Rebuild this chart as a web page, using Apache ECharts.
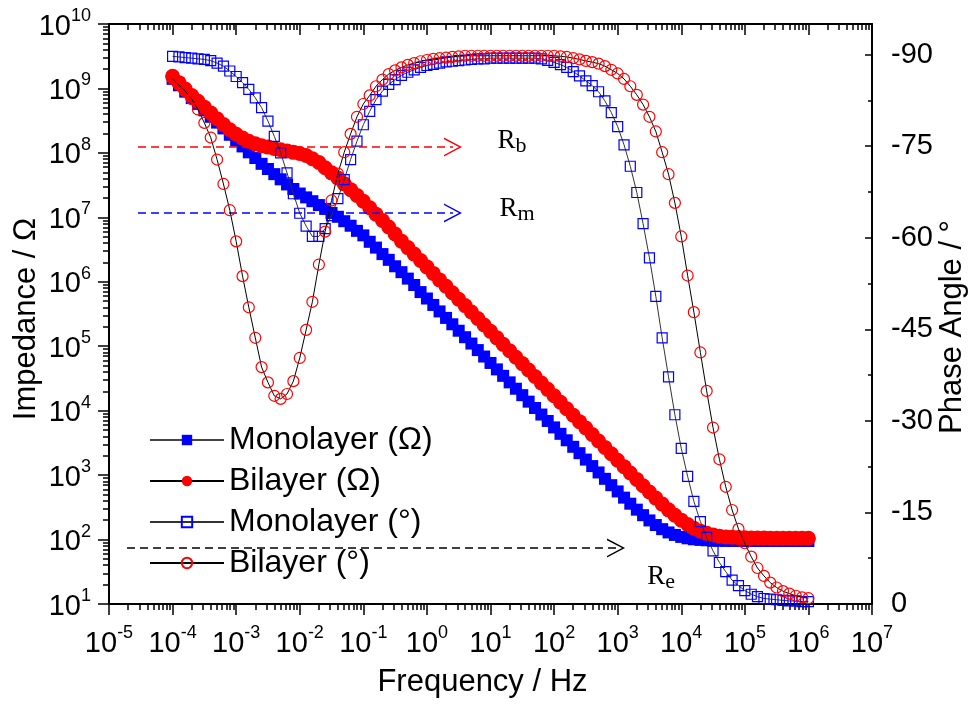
<!DOCTYPE html>
<html><head><meta charset="utf-8">
<script src="https://cdn.jsdelivr.net/npm/echarts@6/dist/echarts.min.js"></script>
<style>html,body{margin:0;padding:0;background:#fff}#c{width:971px;height:704px}</style>
</head><body><div id="c"></div>
<script>
const frequency = [1e-4,1.26e-4,1.58e-4,2.0e-4,2.51e-4,3.16e-4,3.98e-4,5.01e-4,6.31e-4,7.94e-4,
1e-3,1.26e-3,1.58e-3,2.0e-3,2.51e-3,3.16e-3,3.98e-3,5.01e-3,6.31e-3,7.94e-3,
0.01,0.0126,0.0158,0.02,0.0251,0.0316,0.0398,0.0501,0.0631,0.0794,
0.1,0.126,0.158,0.2,0.251,0.316,0.398,0.501,0.631,0.794,
1,1.26,1.58,2.0,2.51,3.16,3.98,5.01,6.31,7.94,
10,12.6,15.8,20,25.1,31.6,39.8,50.1,63.1,79.4,
100,126,158,200,251,316,398,501,631,794,
1000,1260,1580,2000,2510,3160,3980,5010,6310,7940,
1e4,1.26e4,1.58e4,2e4,2.51e4,3.16e4,3.98e4,5.01e4,6.31e4,7.94e4,
1e5,1.26e5,1.58e5,2e5,2.51e5,3.16e5,3.98e5,5.01e5,6.31e5,7.94e5,
1e6];

const monolayerImpedance = [1.41e9,1.12e9,8.91e8,7.08e8,5.75e8,4.57e8,3.63e8,2.95e8,2.40e8,1.91e8,
1.55e8,1.26e8,1.02e8,8.32e7,6.76e7,5.62e7,4.68e7,3.89e7,3.24e7,2.75e7,
2.34e7,2.04e7,1.78e7,1.55e7,1.35e7,1.17e7,1.02e7,8.71e6,7.41e6,6.17e6,
5.25e6,4.17e6,3.39e6,2.69e6,2.19e6,1.74e6,1.41e6,1.12e6,8.91e5,6.92e5,
5.50e5,4.37e5,3.47e5,2.75e5,2.19e5,1.74e5,1.38e5,1.10e5,8.71e4,6.92e4,
5.50e4,4.37e4,3.47e4,2.75e4,2.19e4,1.74e4,1.38e4,1.10e4,8710,6920,
5500,4370,3470,2750,2190,1740,1380,1100,876,698,
558,447,360,291,239,198,168,145,129,118,
110,104.5,101,98.9,97.5,96.6,96.0,95.6,95.4,95.3,
95.2,95.1,95.1,95.1,95.0,95.0,95.0,95.0,95.0,95.0,
95.0];

const bilayerImpedance = [1.55e9,1.23e9,9.77e8,7.76e8,6.31e8,5.13e8,4.17e8,3.39e8,2.75e8,2.29e8,
1.95e8,1.70e8,1.51e8,1.38e8,1.29e8,1.23e8,1.17e8,1.12e8,1.07e8,1.02e8,
9.77e7,9.12e7,8.13e7,7.08e7,5.89e7,4.90e7,4.07e7,3.31e7,2.69e7,2.19e7,
1.78e7,1.41e7,1.12e7,8.91e6,7.08e6,5.50e6,4.27e6,3.39e6,2.69e6,2.14e6,
1.70e6,1.35e6,1.07e6,8.51e5,6.76e5,5.37e5,4.27e5,3.39e5,2.69e5,2.14e5,
1.70e5,1.35e5,1.07e5,8.51e4,6.76e4,5.37e4,4.27e4,3.39e4,2.69e4,2.14e4,
1.70e4,1.35e4,1.07e4,8510,6760,5370,4270,3390,2690,2140,
1700,1353,1077,858,684,547,440,355,289,238,
200,171,150,135,125,118,113,110,108.4,107.2,
106.4,105.9,105.5,105.3,105.2,105.1,105.1,105.0,105.0,105.0,
105.0];

const monolayerPhase = [-89.7,-89.6,-89.5,-89.4,-89.3,-89.2,-89.0,-88.6,-88.1,-87.3,
-86.4,-85.4,-84.3,-82.9,-81.3,-79.1,-76.6,-73.9,-70.6,-67.2,
-64.0,-61.9,-60.2,-60.2,-61.5,-63.6,-66.4,-69.5,-72.8,-75.8,
-78.5,-80.7,-82.6,-84.0,-85.1,-85.9,-86.6,-87.1,-87.5,-87.9,
-88.2,-88.4,-88.6,-88.8,-88.9,-89.0,-89.1,-89.2,-89.3,-89.3,
-89.4,-89.4,-89.4,-89.4,-89.4,-89.4,-89.4,-89.4,-89.3,-89.05,
-88.7,-88.35,-87.9,-87.2,-86.5,-85.7,-84.9,-83.9,-82.4,-80.5,
-78.2,-75.2,-71.7,-67.4,-62.3,-56.7,-50.4,-43.6,-37.2,-31.0,
-25.5,-20.9,-16.8,-13.5,-10.9,-8.7,-6.8,-5.3,-3.9,-3.0,
-2.2,-1.6,-1.2,-0.9,-0.8,-0.7,-0.6,-0.5,-0.5,-0.4,
-0.4];

const bilayerPhase = [-86.0,-85.0,-84.0,-82.7,-81.0,-78.8,-76.4,-72.8,-68.8,-64.5,
-59.4,-53.7,-48.6,-43.6,-38.8,-36.3,-34.1,-33.6,-34.4,-36.5,
-40.3,-44.9,-49.5,-55.6,-61.0,-66.1,-70.5,-74.0,-77.0,-79.8,
-81.9,-83.3,-84.8,-85.9,-86.8,-87.4,-87.9,-88.3,-88.6,-88.9,
-89.1,-89.3,-89.4,-89.5,-89.6,-89.7,-89.8,-89.8,-89.8,-89.8,
-89.8,-89.8,-89.8,-89.8,-89.8,-89.8,-89.8,-89.8,-89.8,-89.8,
-89.8,-89.7,-89.6,-89.4,-89.2,-88.95,-88.75,-88.5,-88.1,-87.5,
-86.9,-86.0,-84.8,-83.4,-81.8,-79.8,-77.4,-74.0,-70.4,-65.7,
-60.2,-53.8,-47.8,-41.2,-34.9,-28.9,-23.7,-19.2,-15.4,-12.3,
-9.95,-7.75,-5.9,-4.6,-3.5,-2.7,-2.1,-1.7,-1.35,-1.1,
-0.95];

const seriesNames = ['Monolayer (\u03A9)', 'Bilayer (\u03A9)', 'Monolayer (\u00B0)', 'Bilayer (\u00B0)'];
const freqTicks = [1e-5,1e-4,1e-3,1e-2,1e-1,1,10,100,1e3,1e4,1e5,1e6,1e7];
const impedanceTicks = [10,100,1e3,1e4,1e5,1e6,1e7,1e8,1e9,1e10];
const phaseTicks = [0,-15,-30,-45,-60,-75,-90];
const phaseMinorTicks = [-7.5,-22.5,-37.5,-52.5,-67.5,-82.5];

// annotation arrows (level markers) and their labels
const arrowLines = [
  {from:[2.86e-5, 1.23e8], to:[2.57, 1.23e8], color:'#ff0000'},
  {from:[2.86e-5, 1.17e7], to:[2.57, 1.17e7], color:'#0000ff'},
  {from:[1.92e-5, 73.8], to:[942, 73.8], color:'#000000'}
];
const annotations = [
  {at:[21.8, 1.48e8], main:'R', sub:'b'},
  {at:[26.1, 1.30e7], main:'R', sub:'m'},
  {at:[4810, 25.3], main:'R', sub:'e'}
];

function minorLog(lo, hi) {
  const out = [];
  for (let e = lo; e < hi; e++) for (let m = 2; m <= 9; m++) out.push(m * Math.pow(10, e));
  return out;
}
const xMinor = minorLog(-5, 7);
const yMinor = minorLog(1, 10);

const FONT = 'Liberation Sans, Arial, sans-serif';
const SERIF = 'Liberation Serif, Times New Roman, serif';
const axisLineStyle = {color:'#000', width:2};
const tickLineStyle = {color:'#000', width:1.5};
const powRich = {
  a: {fontFamily:FONT, fontSize:29, color:'#000', lineHeight:34, verticalAlign:'bottom'},
  b: {fontFamily:FONT, fontSize:18, color:'#000', lineHeight:18, verticalAlign:'top'}
};
function powLabel(v) {
  const e = Math.round(Math.log10(v));
  return '{a|10}{b|' + e + '}';
}

const chevron = 'path://M0,20 L10,0 L20,20 L18.3,20 L10,3.4 L1.7,20 Z';

function pairs(ys) { return frequency.map((f, i) => [f, ys[i]]); }

const chart = echarts.init(document.getElementById('c'), null, {renderer:'canvas'});
chart.setOption({
  animation: false,
  backgroundColor: '#fff',
  textStyle: {fontFamily: FONT},
  grid: {left:109, right:99, top:24, bottom:100, containLabel:false, outerBoundsMode:'none'},
  legend: {
    data: seriesNames, orient:'vertical', left:149, top:424, padding:0,
    itemWidth:74, itemHeight:13, itemGap:9,
    textStyle: {fontFamily:FONT, fontSize:32, color:'#000', lineHeight:30},
    selectedMode:false
  },
  xAxis: [
    {type:'log', logBase:10, min:1e-5, max:1e7, position:'bottom',
     axisLine:{show:true, onZero:false, lineStyle:axisLineStyle},
     axisTick:{show:true, inside:false, length:11, customValues:freqTicks, lineStyle:tickLineStyle},
     axisLabel:{show:true, customValues:freqTicks, formatter:powLabel, rich:powRich, margin:20},
     splitLine:{show:false}, minorTick:{show:false},
     name:'Frequency / Hz', nameLocation:'middle', nameGap:63, nameMoveOverlap:false,
     nameTextStyle:{fontFamily:FONT, fontSize:31, color:'#000', padding:[0,16,0,0]}},
    {type:'log', logBase:10, min:1e-5, max:1e7, position:'bottom',
     axisLine:{show:false, onZero:false},
     axisTick:{show:true, inside:false, length:6, customValues:xMinor, lineStyle:tickLineStyle},
     axisLabel:{show:false}, splitLine:{show:false}},
    {type:'log', logBase:10, min:1e-5, max:1e7, position:'top',
     axisLine:{show:true, onZero:false, lineStyle:axisLineStyle},
     axisTick:{show:true, inside:true, length:11, customValues:freqTicks, lineStyle:tickLineStyle},
     axisLabel:{show:false}, splitLine:{show:false}},
    {type:'log', logBase:10, min:1e-5, max:1e7, position:'top',
     axisLine:{show:false, onZero:false},
     axisTick:{show:true, inside:true, length:6, customValues:xMinor, lineStyle:tickLineStyle},
     axisLabel:{show:false}, splitLine:{show:false}}
  ],
  yAxis: [
    {type:'log', logBase:10, min:10, max:1e10, position:'left',
     axisLine:{show:true, onZero:false, lineStyle:axisLineStyle},
     axisTick:{show:true, inside:false, length:11, customValues:impedanceTicks, lineStyle:tickLineStyle},
     axisLabel:{show:true, customValues:impedanceTicks, formatter:powLabel, rich:powRich, margin:18, align:'right'},
     splitLine:{show:false},
     name:'Impedance / \u03A9', nameLocation:'middle', nameGap:67, nameRotate:90, nameMoveOverlap:false,
     nameTextStyle:{fontFamily:FONT, fontSize:31, color:'#000', padding:[0,10,0,0]}},
    {type:'log', logBase:10, min:10, max:1e10, position:'left',
     axisLine:{show:false, onZero:false},
     axisTick:{show:true, inside:false, length:6, customValues:yMinor, lineStyle:tickLineStyle},
     axisLabel:{show:false}, splitLine:{show:false}},
    {type:'value', min:-95, max:0, inverse:true, position:'right',
     axisLine:{show:true, onZero:false, lineStyle:axisLineStyle},
     axisTick:{show:true, inside:true, length:7, customValues:phaseTicks, lineStyle:tickLineStyle},
     axisLabel:{show:true, customValues:phaseTicks, margin:19, fontFamily:FONT, fontSize:29, color:'#000'},
     splitLine:{show:false},
     name:'Phase Angle / \u00B0', nameLocation:'middle', nameGap:65, nameRotate:90, nameMoveOverlap:false,
     nameTextStyle:{fontFamily:FONT, fontSize:31, color:'#000', padding:[0,26,0,0]}},
    {type:'value', min:-95, max:0, inverse:true, position:'right',
     axisLine:{show:false, onZero:false},
     axisTick:{show:true, inside:true, length:4, customValues:phaseMinorTicks, lineStyle:tickLineStyle},
     axisLabel:{show:false}, splitLine:{show:false}}
  ],
  series: [
    {name:seriesNames[0], type:'line', xAxisIndex:0, yAxisIndex:0, data:pairs(monolayerImpedance),
     symbol:'rect', symbolSize:12, showAllSymbol:true, z:2,
     itemStyle:{color:'#0000ff'}, lineStyle:{color:'#444', width:1},
     markLine:{
       silent:true, symbol:['none', chevron], symbolSize:[19,18],
       label:{show:false},
       data: arrowLines.map(a => [
         {coord:a.from, lineStyle:{color:a.color, type:[8,5], width:1.5}},
         {coord:a.to}
       ])
     },
     markPoint:{
       silent:true, symbol:'circle', symbolSize:0,
       data: annotations.map(a => ({
         coord:a.at,
         label:{show:true, position:'inside',
           formatter:'{r|' + a.main + '}{s|' + a.sub + '}',
           rich:{
             r:{fontFamily:SERIF, fontSize:27, color:'#000', lineHeight:30, verticalAlign:'top'},
             s:{fontFamily:SERIF, fontSize:22, color:'#000', lineHeight:18, verticalAlign:'bottom'}
           }}
       }))
     }},
    {name:seriesNames[1], type:'line', xAxisIndex:0, yAxisIndex:0, data:pairs(bilayerImpedance),
     symbol:'circle', symbolSize:15, showAllSymbol:true, z:3,
     itemStyle:{color:'#ff0000'}, lineStyle:{color:'#000', width:1}},
    {name:seriesNames[2], type:'line', xAxisIndex:0, yAxisIndex:2, data:pairs(monolayerPhase),
     symbol:'rect', symbolSize:10, showAllSymbol:true, z:4,
     itemStyle:{color:'transparent', borderColor:'#0000ff', borderWidth:1.2},
     lineStyle:{color:'#333', width:1}},
    {name:seriesNames[3], type:'line', xAxisIndex:0, yAxisIndex:2, data:pairs(bilayerPhase),
     symbol:'circle', symbolSize:11, showAllSymbol:true, z:5,
     itemStyle:{color:'transparent', borderColor:'#ff0000', borderWidth:1.2},
     lineStyle:{color:'#000', width:1}}
  ]
});
</script>
</body></html>
